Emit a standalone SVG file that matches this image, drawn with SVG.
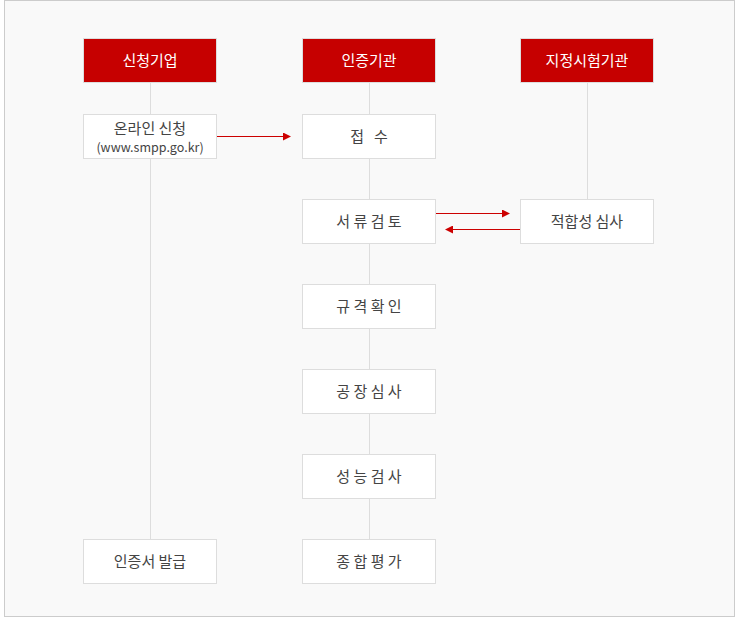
<svg xmlns="http://www.w3.org/2000/svg" width="736" height="618" viewBox="0 0 736 618">
<style>
.hd{fill:#c60000;stroke:#dddddd;stroke-width:1}
.bx{fill:#ffffff;stroke:#dddddd;stroke-width:1}
.ht{fill:#ffffff;font-family:"Noto Sans CJK KR","Noto Sans",sans-serif;font-size:15px;text-anchor:middle}
.bt{fill:#444444;font-family:"Noto Sans CJK KR","Noto Sans",sans-serif;font-size:15px;text-anchor:middle}
.st{fill:#444444;font-family:"Noto Sans CJK KR","Noto Sans",sans-serif;font-size:12.5px;text-anchor:middle}
.ln{stroke:#dddddd;stroke-width:1;fill:none}
.ar{stroke:#cc0000;stroke-width:1;fill:none}
</style>
<defs>
<marker id="ah" markerWidth="8" markerHeight="8" refX="7" refY="4" orient="auto" markerUnits="userSpaceOnUse">
<path d="M0,0 L8,4 L0,8 Z" fill="#cc0000"/>
</marker>
</defs>
<rect x="4.5" y="0.5" width="730" height="616" fill="#f9f9f9" stroke="#cccccc"/>
<g id="lifelines">
<line class="ln" x1="150.5" y1="82" x2="150.5" y2="539"/>
<line class="ln" x1="369.5" y1="82" x2="369.5" y2="539"/>
<line class="ln" x1="587.5" y1="82" x2="587.5" y2="199"/>
</g>
<g id="connectors">
<line class="ar" x1="217" y1="136.5" x2="290" y2="136.5" marker-end="url(#ah)"/>
<line class="ar" x1="436" y1="213.5" x2="509" y2="213.5" marker-end="url(#ah)"/>
<line class="ar" x1="520" y1="229.5" x2="446" y2="229.5" marker-end="url(#ah)"/>
</g>
<g id="h1"><rect class="hd" x="83.5" y="38.5" width="133" height="44"/><text class="ht" x="150" y="66">신청기업</text></g>
<g id="h2"><rect class="hd" x="302.5" y="38.5" width="133" height="44"/><text class="ht" x="369" y="66">인증기관</text></g>
<g id="h3"><rect class="hd" x="520.5" y="38.5" width="133" height="44"/><text class="ht" x="587" y="66">지정시험기관</text></g>
<g id="n1"><rect class="bx" x="83.5" y="114.5" width="133" height="44"/><text class="bt" x="150" y="134">온라인 신청</text><text class="st" x="150" y="152">(www.smpp.go.kr)</text></g>
<g id="n2"><rect class="bx" x="302.5" y="114.5" width="133" height="44"/><text class="bt" x="369" y="142" xml:space="preserve">접   수</text></g>
<g id="n3"><rect class="bx" x="302.5" y="199.5" width="133" height="44"/><text class="bt" x="369" y="227">서 류 검 토</text></g>
<g id="n4"><rect class="bx" x="520.5" y="199.5" width="133" height="44"/><text class="bt" x="587" y="227">적합성 심사</text></g>
<g id="n5"><rect class="bx" x="302.5" y="284.5" width="133" height="44"/><text class="bt" x="369" y="312">규 격 확 인</text></g>
<g id="n6"><rect class="bx" x="302.5" y="369.5" width="133" height="44"/><text class="bt" x="369" y="397">공 장 심 사</text></g>
<g id="n7"><rect class="bx" x="302.5" y="454.5" width="133" height="44"/><text class="bt" x="369" y="482">성 능 검 사</text></g>
<g id="n8"><rect class="bx" x="302.5" y="539.5" width="133" height="44"/><text class="bt" x="369" y="567">종 합 평 가</text></g>
<g id="n9"><rect class="bx" x="83.5" y="539.5" width="133" height="44"/><text class="bt" x="150" y="567">인증서 발급</text></g>
</svg>
